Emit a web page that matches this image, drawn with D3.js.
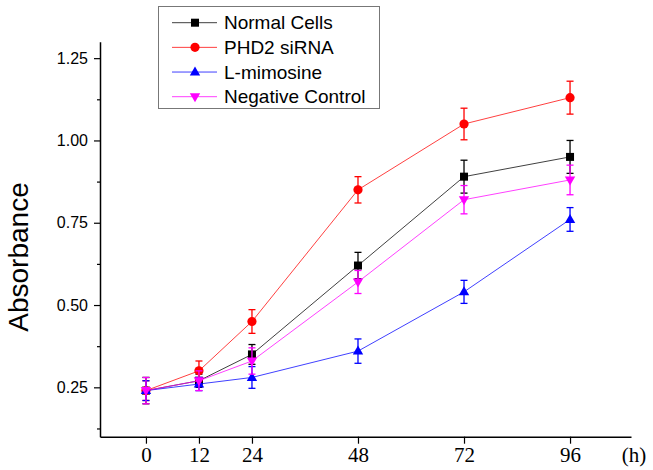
<!DOCTYPE html>
<html>
<head>
<meta charset="utf-8">
<script src="https://cdn.jsdelivr.net/npm/d3@7/dist/d3.min.js"></script>
<style>
  html, body { margin: 0; padding: 0; background: #fff; }
  svg { display: block; }
</style>
</head>
<body>
<svg id="chart" width="653" height="470"></svg>
<script>
// ---- data ----
const hours = [0, 12, 24, 48, 72, 96];
const xTickLabels = ["0", "12", "24", "48", "72", "96"];
const yTicks = [0.25, 0.50, 0.75, 1.00, 1.25];
const yMinorTicks = [0.125, 0.375, 0.625, 0.875, 1.125];
const seriesNames = ["Normal Cells", "PHD2 siRNA", "L-mimosine", "Negative Control"];
const normalCells = [0.24, 0.27, 0.35, 0.62, 0.89, 0.95];
const normalErr   = [0.04, 0.02, 0.03, 0.04, 0.05, 0.05];
const phd2 = [0.24, 0.30, 0.45, 0.85, 1.05, 1.13];
const phd2Err = [0.03, 0.03, 0.036, 0.04, 0.048, 0.05];
const lMimosine = [0.24, 0.26, 0.28, 0.36, 0.54, 0.76];
const lMimosineErr = [0.03, 0.02, 0.033, 0.037, 0.035, 0.036];
const negControl = [0.24, 0.27, 0.33, 0.57, 0.82, 0.88];
const negControlErr = [0.04, 0.03, 0.04, 0.035, 0.043, 0.045];
const colors = ["#000000", "#ff0000", "#0000ff", "#ff00ff"];
const symbols = ["square", "circle", "up", "down"];

const series = [
  { name: seriesNames[0], values: normalCells, errs: normalErr, color: colors[0], sym: symbols[0] },
  { name: seriesNames[1], values: phd2, errs: phd2Err, color: colors[1], sym: symbols[1] },
  { name: seriesNames[2], values: lMimosine, errs: lMimosineErr, color: colors[2], sym: symbols[2] },
  { name: seriesNames[3], values: negControl, errs: negControlErr, color: colors[3], sym: symbols[3] }
];

const svg = d3.select("#chart");
const x = d3.scaleLinear().domain([-10.4, 109.8]).range([100, 631]);
const y = d3.scaleLinear().domain([0.1, 1.3]).range([436.7, 41.7]);

function marker(g, sym, cx, cy, color) {
  if (sym === "square") {
    g.append("rect").attr("x", cx - 4).attr("y", cy - 4).attr("width", 8).attr("height", 8).attr("fill", color);
  } else if (sym === "circle") {
    g.append("circle").attr("cx", cx).attr("cy", cy).attr("r", 4.6).attr("fill", color);
  } else if (sym === "up") {
    g.append("path").attr("d", `M${cx},${cy - 5.5}L${cx + 5.2},${cy + 3.5}L${cx - 5.2},${cy + 3.5}Z`).attr("fill", color);
  } else {
    g.append("path").attr("d", `M${cx},${cy + 5.5}L${cx + 5.2},${cy - 3.5}L${cx - 5.2},${cy - 3.5}Z`).attr("fill", color);
  }
}

// ---- series ----
const line = d3.line().x((d, i) => x(hours[i])).y(d => y(d));
series.forEach(s => {
  const g = svg.append("g");
  g.append("path").datum(s.values).attr("d", line)
    .attr("fill", "none").attr("stroke", s.color).attr("stroke-width", 1).attr("opacity", 0.75);
  s.values.forEach((v, i) => {
    const cx = x(hours[i]);
    const y1 = y(v + s.errs[i]), y2 = y(v - s.errs[i]);
    g.append("line").attr("x1", cx).attr("x2", cx).attr("y1", y1).attr("y2", y2)
      .attr("stroke", s.color).attr("stroke-width", 1.3);
    [y1, y2].forEach(yy => g.append("line").attr("x1", cx - 3.5).attr("x2", cx + 3.5)
      .attr("y1", yy).attr("y2", yy).attr("stroke", s.color).attr("stroke-width", 1.3));
    marker(g, s.sym, cx, y(v), s.color);
  });
});

// ---- axes ----
const yAxis = d3.axisLeft(y).tickValues(yTicks).tickFormat(d3.format(".2f")).tickSize(6).tickSizeOuter(0);
const gy = svg.append("g").attr("transform", "translate(100,0)").call(yAxis);
gy.selectAll("text").attr("font-family", "Liberation Sans, Arial, sans-serif").attr("font-size", 16)
  .attr("fill", "#000").attr("x", -12);
gy.select(".domain").attr("stroke-width", 1.5);
gy.selectAll(".tick line").attr("stroke-width", 1.2);
const gyMinor = svg.append("g").attr("transform", "translate(100,0)")
  .call(d3.axisLeft(y).tickValues(yMinorTicks).tickSize(3).tickFormat(""));
gyMinor.select(".domain").remove();
gyMinor.selectAll(".tick line").attr("stroke-width", 1.2);

const xAxis = d3.axisBottom(x).tickValues(hours).tickFormat((d, i) => xTickLabels[i]).tickSize(7).tickSizeOuter(0);
const gx = svg.append("g").attr("transform", "translate(0,436.7)").call(xAxis);
gx.selectAll("text").attr("font-family", "Liberation Serif, Times New Roman, serif").attr("font-size", 21)
  .attr("fill", "#000").attr("dy", null).attr("y", 25.5);
gx.select(".domain").attr("stroke-width", 1.5);
gx.selectAll(".tick line").attr("stroke-width", 1.2);

svg.append("text").attr("x", 634).attr("y", 462).attr("text-anchor", "middle")
  .attr("font-family", "Liberation Serif, Times New Roman, serif").attr("font-size", 21).text("(h)");

svg.append("text").attr("transform", "translate(28,257) rotate(-90)").attr("text-anchor", "middle")
  .attr("font-family", "Liberation Sans, Arial, sans-serif").attr("font-size", 28).text("Absorbance");

// ---- legend ----
const lg = svg.append("g");
lg.append("rect").attr("x", 158.5).attr("y", 6.5).attr("width", 221).attr("height", 102)
  .attr("fill", "#fff").attr("stroke", "#777").attr("stroke-width", 1);
const legendY = d3.scalePoint().domain(seriesNames).range([22.7, 96.7]);
series.forEach(s => {
  const ly = legendY(s.name);
  lg.append("line").attr("x1", 172).attr("x2", 217).attr("y1", ly).attr("y2", ly)
    .attr("stroke", s.color).attr("stroke-width", 1).attr("opacity", 0.75);
  marker(lg, s.sym, 195, ly, s.color);
  lg.append("text").attr("x", 224).attr("y", ly).attr("dy", "0.35em")
    .attr("font-family", "Liberation Sans, Arial, sans-serif").attr("font-size", 19).text(s.name);
});
</script>
</body>
</html>
